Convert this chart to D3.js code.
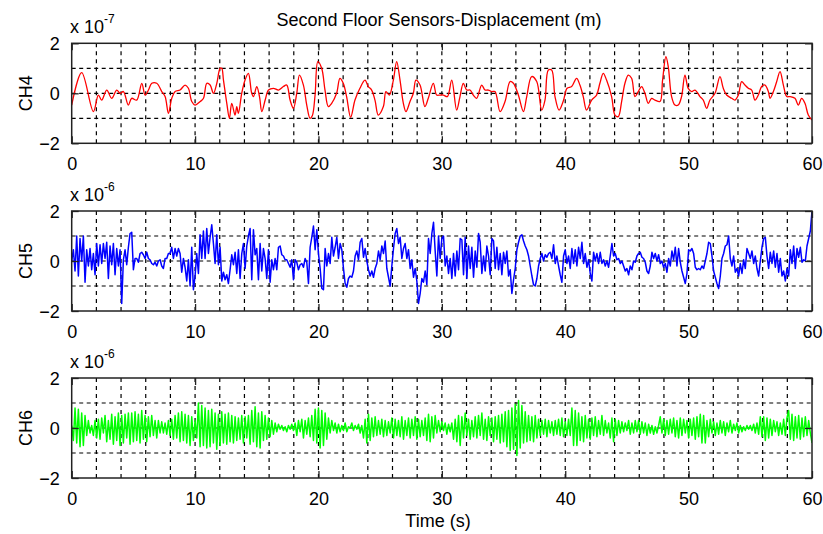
<!DOCTYPE html>
<html>
<head>
<meta charset="utf-8">
<script src="https://cdn.jsdelivr.net/npm/d3@7"></script>
<style>
  body { margin: 0; background: #fff; }
  text { font-family: Arial, "Liberation Sans", sans-serif; fill: #000; }
</style>
</head>
<body>
<script>
// ---- data ----
const chartTitle = "Second Floor Sensors-Displacement (m)";
const channelNames = ["CH4", "CH5", "CH6"];
const scaleExponents = ["-7", "-6", "-6"];
const xTicks = [0, 10, 20, 30, 40, 50, 60];
const yTicks = [-2, 0, 2];
const yGrid = [-1, 0, 1];

// CH4: [time (s), value (x 1e-7)]
const ch4Points = [
  [0, -0.47], [0.81, 0.83], [1.76, -0.73], [2.16, -0.07], [2.43, -0.27], [2.84, 0.13], [3.24, -0.2], [3.65, 0.13], [3.92, 0], [4.19, 0.07],
  [4.59, -0.47], [4.86, -0.2], [5.27, -0.27], [5.68, 0.4], [5.95, -0.07], [6.22, 0.13], [6.49, 0.4], [6.89, 0.4], [7.3, 0.07], [7.57, -0.13],
  [7.84, -0.8], [8.11, -0.2], [8.38, 0.07], [8.78, 0.13], [9.19, 0.33], [9.46, 0.2], [9.73, -0.33], [10.0, -0.47], [10.41, -0.33], [10.68, -0.2],
  [10.95, 0.4], [11.22, 0.33], [11.49, 0], [11.76, 0.4], [12.03, 1.0], [12.16, 1.0], [12.3, 0.53], [12.57, -0.4], [12.78, -1.0], [12.97, -0.4],
  [13.24, -0.87], [13.38, -0.53], [13.51, -0.8], [13.78, 0], [14.05, 0.53], [14.32, 0.8], [14.59, 0], [14.73, -0.13], [15.0, 0.27], [15.22, -0.13],
  [15.41, -0.73], [15.68, -0.27], [15.95, 0.13], [16.35, 0.2], [16.76, 0.13], [17.16, 0.27], [17.43, 0.33], [17.7, -0.27], [17.97, -0.6], [18.24, 0],
  [18.46, 0.73], [18.78, 0.33], [19.05, -0.47], [19.32, -1.0], [19.5, -0.9], [19.72, -0.1], [19.95, 1.27], [20.26, 1.0], [20.53, 0.13], [20.8, -0.53],
  [21.07, -0.4], [21.47, 0], [21.74, 0.6], [22.01, 0.4], [22.28, -0.13], [22.61, -0.96], [22.96, -0.27], [23.36, 0.2], [23.77, 0.53], [24.04, 0.27],
  [24.31, 0.13], [24.58, -0.27], [24.85, -0.87], [25.26, -0.53], [25.47, 0.07], [25.74, -0.07], [26.07, 0.53], [26.34, 1.27], [26.61, 0.53], [26.88, -0.4],
  [27.09, -0.73], [27.42, -0.33], [27.69, 0], [27.9, 0.53], [28.23, 0.33], [28.63, -0.53], [28.9, -0.2], [29.31, 0.4], [29.58, -0.07], [29.85, -0.07],
  [30.12, -0.07], [30.45, -0.13], [30.8, 0.53], [31.2, -0.67], [31.47, -0.13], [31.74, 0.4], [32.01, 0.13], [32.28, 0.13], [32.55, -0.07], [32.82, -0.2],
  [33.23, 0.33], [33.5, 0.13], [33.77, 0.13], [34.04, 0.07], [34.31, 0.07], [34.72, -0.73], [35.12, -0.33], [35.53, 0.47], [35.8, 0.4], [36.2, -0.07],
  [36.61, -0.73], [36.88, -0.13], [37.28, 0.67], [37.69, 0.47], [38.09, -0.67], [38.36, -0.27], [38.63, 0.93], [38.9, 0.93], [39.17, -0.13], [39.5, -0.67],
  [39.85, -0.3], [40.15, 0.2], [40.52, 0.27], [40.92, 0.6], [41.19, 0.33], [41.46, -0.13], [41.73, -0.67], [42.14, -0.27], [42.54, -0.07], [42.81, 0.4],
  [43.08, 0.8], [43.35, 0.53], [43.76, -0.13], [44.03, -0.87], [44.3, -0.93], [44.57, -0.33], [44.84, 0.4], [45.11, 0.73], [45.38, 0.6], [45.65, -0.13],
  [45.92, 0.07], [46.19, 0.27], [46.46, 0], [46.73, -0.4], [47.0, -0.2], [47.27, -0.27], [47.68, -0.33], [47.89, 0.53], [48.16, 1.47], [48.35, 1.07],
  [48.62, -0.13], [48.89, -0.47], [49.16, -0.47], [49.43, -0.13], [49.7, 0.73], [49.97, 0.2], [50.25, 0.07], [50.52, 0.13], [50.92, -0.13], [51.19, -0.27],
  [51.46, -0.6], [51.73, -0.27], [52.14, 0], [52.54, 0.67], [52.81, 0.2], [53.08, -0.07], [53.49, -0.2], [53.76, -0.27], [54.03, -0.07], [54.3, 0.47],
  [54.57, 0.33], [54.84, 0.2], [55.11, 0.13], [55.38, -0.27], [55.65, -0.07], [55.92, 0.27], [56.19, 0.33], [56.46, 0.07], [56.6, -0.2], [56.87, 0.07],
  [57.14, 0.47], [57.41, 0.87], [57.68, 0.33], [57.95, -0.13], [58.22, -0.13], [58.62, -0.2], [58.89, -0.47], [59.16, -0.2], [59.43, -0.4], [59.7, -0.87],
  [60.0, -1.07]
];

// CH5: evenly sampled over 0..60 s, value x 1e-6
const ch5Values = [
  0.0, 0.45, -0.4, 1.0, -0.6, 0.9, 0.0, 1.0, -0.85, 0.45,
  -0.2, 0.5, -0.35, 0.3, -0.55, 0.7, -0.2, 0.65, -0.1, 0.7,
  0.1, 0.75, -0.7, 0.6, -0.15, 0.7, -0.55, 0.5, -0.2, 0.45,
  -1.7, 0.05, 0.45, -0.15, 0.55, 1.1, 1.15, -0.35, 0.1, 0.1,
  -0.05, 0.3, 0.35, 0.25, 0.1, 0.35, 0.1, 0.05, -0.1, -0.15,
  -0.05, -0.2, 0.0, 0.05, -0.2, -0.3, 0.1, 0.1, 0.3, 0.3,
  0.55, 0.1, 0.5, 0.2, 0.5, 0.3, -0.45, 0.1, -0.25, -0.8,
  0.05, -1.0, 0.55, -1.15, -0.6, 0.3, -0.5, 1.05, 0.1, 1.2,
  0.1, 1.3, 0.3, 0.95, 1.45, 0.7, -0.1, 1.05, -0.15, 0.55,
  -0.8, -0.45, -0.75, -0.55, -0.9, -0.35, 0.25, -0.15, 0.35, -0.5,
  0.45, -0.7, 0.3, 0.7, -0.3, 0.6, 1.0, 1.3, -0.75, 1.25,
  0.25, 0.5, -0.75, 0.7, -0.4, 0.5, 0.1, -0.7, 0.45, -0.85,
  0.05, -0.35, 0.1, -0.35, 0.55, 0.6, 0.25, 0.2, 0.05, 0.05,
  -0.1, -0.25, 0.05, -0.75, 0.05, -0.05, -0.35, -0.15, -0.1, -0.25,
  0.1, -0.05, -0.9, 0.55, 0.95, 1.4, 0.45, 1.25, 0.3,
  -0.3, -1.1, -1.15, 0.5, -0.2, 0.3, -0.1, 0.95, 0.2, 0.55,
  0.95, 0.1, 0.7, 0.45, -0.3, -0.9, -1.05, -0.7, -0.6, -0.65,
  -0.4, 0.2, 0.4, 0.05, 0.75, 0.9, 0.15, 0.5, 0.0, -0.35,
  -0.6, -0.4, -0.65, -0.3, -0.1, 0.4, 0.05, 0.6, 0.3, 0.8,
  -0.3, -0.65, -1.0, -0.2, 0.5, 1.1, 1.3, 0.7, 0.95, 0.1,
  0.5, 0.7, 0.1, 0.45, -0.3, 0.05, -0.65, -0.3, -0.8, -1.7,
  -1.3, -0.7, -0.85, -0.4, -0.95, 0.9, 0.3, 1.1, 1.55, 0.4,
  -0.6, 1.0, 0.1, 0.9, 1.0, -0.2, 0.2, -0.5, 0.1, -0.7,
  0.3, -0.6, 0.4, -0.35, 0.9, 0.85, -0.55, 0.95, -0.7, 0.6,
  -0.3, 0.55, -0.65, 0.4, -0.25, 1.1, 0.75, -0.5, 0.2, -0.4,
  0.6, 0.2, -0.55, 0.9, 0.8, -0.3, 0.55, -0.35, 0.3, -0.55,
  0.35, -0.1, 0.4, -0.6, -0.35, -1.3, -0.75, -0.3, 0.45, 0.75,
  1.0, 1.05, 0.8, 0.6, 0.45, 0.2, -0.2, -0.6, -0.95, -1.0,
  -0.7, -0.2, 0.1, 0.3, 0.0, 0.25, 0.15, 0.3, 0.35, 0.1,
  0.65, -0.1, 0.2, -0.2, -0.55, -0.85, 0.2, 0.45, -0.1,
  0.2, -0.3, 0.5, -0.1, 0.45, -0.2, 0.55, 0.1, 0.75, -0.1,
  0.3, -0.25, 0.05, -0.5, -0.8, 0.35, 0.0, 0.3, -0.1, 0.35,
  -0.1, 0.05, -0.2, 0.0, -0.25, 0.2, 0.7, 0.2, 0.3, 0.05,
  0.1, -0.1, 0.0, -0.2, -0.4, -0.3, -0.55, -0.2, -0.35, 0.0,
  -0.05, 0.2, 0.3, 0.35, 0.15, 0.1, -0.05, -0.4, -0.5, -0.2,
  0.35, 0.1, 0.3, 0.0, 0.25, -0.1, 0.0, -0.25, -0.1, -0.45,
  0.1, -0.2, 0.4, 0.05, 0.55, -0.2, 0.5, -0.05, -0.4, -0.65,
  -0.9, -0.5, 0.45, 0.4, 0.5, 0.3, -0.25, -0.35, -0.3, -0.35,
  -0.2, -0.3, 0.0, 0.3, 0.75, 0.7, 0.2, -0.4, -0.65, -0.9,
  -1.1, -0.6, 0.1, 0.3, 0.6, 0.65, 1.0, 0.1, -0.2, 0.2,
  -0.45, -0.3, -0.6, -0.1, -0.5, 0.05, -0.3, 0.5, 0.3, 0.1,
  0.4, -0.1, 0.2, -0.3, -0.6, 0.0, 0.55, 0.9, 0.95, 0.2,
  -0.3, 0.35, -0.1, 0.4, -0.25, 0.3, -0.45, 0.1, -0.6, -0.4,
  -0.8, -0.3, -0.6, 0.45, -0.1, 0.6, -0.3, 0.5, 0.15, 0.55,
  -0.05, 0.05, 0.0, 0.6, 0.9, 1.2, 2.0
];

// CH6: evenly sampled over 0..60 s, value x 1e-6
const ch6Values = [
  0.1, -0.5, 0.8, -0.6, 0.75, -0.75, 0.6, -0.7, 0.5, -0.3,
  0.3, -0.2, 0.1, -0.3, 0.3, -0.4, 0.35, -0.45, 0.4, -0.2,
  0.5, -0.55, 0.3, -0.45, 0.55, -0.65, 0.45, -0.5, 0.6, -0.7,
  0.5, -0.6, 0.55, -0.4, 0.6, -0.65, 0.6, -0.55, 0.65, -0.5,
  0.55, -0.6, 0.7, -0.45, 0.5, -0.55, 0.45, -0.35, 0.5, -0.3,
  0.3, -0.4, 0.3, -0.2, 0.25, -0.2, 0.2, -0.25, 0.3, -0.3,
  0.35, -0.45, 0.5, -0.4, 0.6, -0.55, 0.65, -0.5, 0.55, -0.6,
  0.5, -0.7, 0.45, -0.5, 0.3, -0.4, 1.0, -0.75, 0.9, -0.7,
  0.8, -0.8, 0.7, -0.75, 0.75, -0.6, 0.6, -0.85, 0.55, -0.7,
  0.65, -0.6, 0.55, -0.65, 0.6, -0.55, 0.5, -0.6, 0.45, -0.5,
  0.4, -0.45, 0.5, -0.6, 0.45, -0.4, 0.5, -0.65, 0.7, -0.55,
  0.85, -0.75, 0.6, -0.8, 0.65, -0.5, 0.5, -0.45, 0.4, -0.35,
  0.3, -0.25, 0.2, -0.15, 0.15, -0.05, 0.1, -0.1, 0.05, -0.15,
  0.1, -0.05, 0.15, -0.1, 0.2, -0.3, 0.3, -0.15, 0.35, -0.4,
  0.3, -0.25, 0.4, -0.35, 0.5, -0.5, 0.75, -0.6, 0.8,
  -0.8, 0.7, -0.7, 0.6, -0.45, 0.4, -0.2, 0.3, -0.1, 0.2,
  -0.2, 0.15, -0.15, 0.1, -0.1, 0.2, -0.15, 0.05, 0.0, 0.2,
  -0.1, 0.1, -0.05, 0.15, -0.2, 0.1, -0.4, 0.35, -0.6, 0.55,
  -0.5, 0.4, -0.35, 0.45, -0.3, 0.3, -0.25, 0.35, -0.35, 0.3,
  -0.3, 0.25, -0.2, 0.4, -0.4, 0.35, -0.3, 0.3, -0.35, 0.45,
  -0.45, 0.3, -0.3, 0.4, -0.4, 0.35, -0.3, 0.45, -0.45, 0.35,
  -0.35, 0.3, -0.3, 0.4, -0.5, 0.55, -0.55, 0.45, -0.4, 0.5,
  -0.2, 0.3, -0.15, 0.25, -0.1, 0.2, -0.25, 0.15, -0.15, 0.2,
  -0.45, 0.35, -0.55, 0.5, -0.7, 0.45, -0.4, 0.6, -0.3, 0.35,
  -0.45, 0.3, -0.35, 0.45, -0.4, 0.5, -0.3, 0.6, -0.45, 0.35,
  -0.5, 0.45, -0.3, 0.4, -0.55, 0.45, -0.45, 0.5, -0.6, 0.55,
  -0.55, 0.65, -0.75, 0.7, -0.9, 0.8, -0.85, 0.95, -1.1, 1.1,
  -0.8, 0.9, -0.6, 0.65, -0.55, 0.5, -0.5, 0.45, -0.55, 0.5,
  -0.4, 0.35, -0.3, 0.3, -0.25, 0.35, -0.35, 0.3, -0.2, 0.25,
  -0.3, 0.3, -0.25, 0.35, -0.3, 0.4, -0.35, 0.25, -0.3,
  0.35, -0.3, 0.8, -0.7, 0.7, -0.7, 0.6, -0.5, 0.45, -0.55,
  0.5, -0.4, 0.35, -0.45, 0.4, -0.3, 0.45, -0.35, 0.3, -0.25,
  0.5, -0.3, 0.3, -0.2, 0.2, -0.4, 0.4, -0.55, 0.35, -0.3,
  0.3, -0.2, 0.25, -0.15, 0.2, -0.1, 0.3, -0.25, 0.2, -0.2,
  0.3, -0.15, 0.3, -0.25, 0.25, -0.2, 0.2, -0.3, 0.15, -0.2,
  0.1, -0.25, 0.05, -0.2, 0.1, 0.45, -0.2, 0.35, -0.3, 0.3,
  -0.25, 0.35, -0.2, 0.4, -0.35, 0.3, -0.4, 0.4, -0.3, 0.35,
  -0.2, 0.3, -0.4, 0.35, -0.3, 0.4, -0.45, 0.45, -0.35, 0.55,
  -0.6, 0.5, -0.6, 0.3, -0.35, 0.35, -0.2, 0.25, -0.3, 0.2,
  -0.25, 0.3, -0.2, 0.25, -0.3, 0.2, -0.15, 0.3, -0.2, 0.15,
  -0.1, 0.2, -0.2, 0.1, -0.15, 0.05, -0.1, 0.1, -0.05, 0.1,
  -0.1, 0.15, -0.2, 0.2, -0.25, 0.45, -0.35, 0.45, -0.5, 0.4,
  -0.4, 0.35, -0.3, 0.3, -0.15, 0.25, -0.3, 0.2, -0.25, 0.35,
  -0.3, 0.4, 0.7, -0.45, 0.55, -0.5, 0.45, -0.4, 0.5, -0.45,
  0.4, -0.35, 0.45, -0.3, 0.3, -0.2, -0.6
];

const evenTime = (vals) => vals.map((v, i) => [i * 60 / (vals.length - 1), v]);
const series = [ch4Points, evenTime(ch5Values), evenTime(ch6Values)];
const colors = ["#ff0000", "#0000ff", "#00ff00"];

// ---- layout ----
const width = 823, height = 534;
const plotLeft = 71.7, plotRight = 812;
const panelTops = [43.3, 211, 378];
const panelH = 100;
const fontSize = "18px";

const svg = d3.select("body").append("svg")
    .attr("width", width)
    .attr("height", height);

const x = d3.scaleLinear().domain([0, 60]).range([plotLeft, plotRight]);

svg.append("text")
    .attr("x", 439).attr("y", 26)
    .attr("text-anchor", "middle")
    .style("font-size", fontSize)
    .text(chartTitle);

panelTops.forEach((top, k) => {
    const y = d3.scaleLinear().domain([-2, 2]).range([top + panelH, top]);
    const g = svg.append("g");

    // clip for the trace
    svg.append("clipPath").attr("id", "clip" + k)
        .append("rect")
        .attr("x", plotLeft).attr("y", top)
        .attr("width", plotRight - plotLeft).attr("height", panelH);

    // dashed grid
    g.selectAll(".vgrid")
        .data(d3.range(2, 60, 2))
        .enter().append("line")
        .attr("x1", d => x(d)).attr("x2", d => x(d))
        .attr("y1", top).attr("y2", top + panelH)
        .attr("stroke", "#000").attr("stroke-width", 1.2)
        .attr("stroke-dasharray", "4,4");
    g.selectAll(".hgrid")
        .data(yGrid)
        .enter().append("line")
        .attr("x1", plotLeft).attr("x2", plotRight)
        .attr("y1", d => y(d)).attr("y2", d => y(d))
        .attr("stroke", "#000").attr("stroke-width", 1.2)
        .attr("stroke-dasharray", "4,3.5");

    // trace
    g.append("path")
        .datum(series[k])
        .attr("clip-path", `url(#clip${k})`)
        .attr("fill", "none")
        .attr("stroke", colors[k])
        .attr("stroke-width", k === 0 ? 1.3 : 1.5)
        .attr("stroke-linejoin", "round")
        .attr("d", d3.line()
            .curve(k === 0 ? d3.curveCatmullRom : d3.curveLinear)
            .x(d => x(d[0])).y(d => y(d[1])));

    // x ticks inside, bottom and top
    const xa = g.append("g")
        .attr("transform", `translate(0,${top + panelH})`)
        .call(d3.axisBottom(x).tickValues(xTicks).tickSize(-7).tickPadding(14).tickFormat(d3.format("d")));
    const xt = g.append("g")
        .attr("transform", `translate(0,${top})`)
        .call(d3.axisTop(x).tickValues(xTicks).tickSize(-7).tickFormat(""));
    // y ticks inside, left and right
    const ya = g.append("g")
        .attr("transform", `translate(${plotLeft},0)`)
        .call(d3.axisLeft(y).tickValues(yTicks).tickSize(-7).tickPadding(12).tickFormat(d3.format("d")));
    const yr = g.append("g")
        .attr("transform", `translate(${plotRight},0)`)
        .call(d3.axisRight(y).tickValues(yTicks).tickSize(-7).tickFormat(""));
    [xa, xt, ya, yr].forEach(a => {
        a.select(".domain").remove();
        a.selectAll("line").attr("stroke", "#222").attr("stroke-width", 1.3);
        a.selectAll("text").style("font-size", fontSize).attr("fill", "#000")
            .style("font-family", 'Arial, "Liberation Sans", sans-serif');
    });
    ya.selectAll("text").attr("dy", "0.35em");

    // frame
    g.append("rect")
        .attr("x", plotLeft).attr("y", top)
        .attr("width", plotRight - plotLeft).attr("height", panelH)
        .attr("fill", "none").attr("stroke", "#222").attr("stroke-width", 1.5);

    // scale factor label
    const sf = g.append("text").attr("x", 70).attr("y", top - 10.5).style("font-size", fontSize);
    sf.append("tspan").text("x 10");
    sf.append("tspan").attr("dy", -10).style("font-size", "12px").text(scaleExponents[k]);

    // channel label
    g.append("text")
        .attr("transform", `translate(32,${top + panelH / 2}) rotate(-90)`)
        .attr("text-anchor", "middle")
        .style("font-size", fontSize)
        .text(channelNames[k]);
});

svg.append("text")
    .attr("x", 438).attr("y", 527)
    .attr("text-anchor", "middle")
    .style("font-size", fontSize)
    .text("Time (s)");
</script>
</body>
</html>
